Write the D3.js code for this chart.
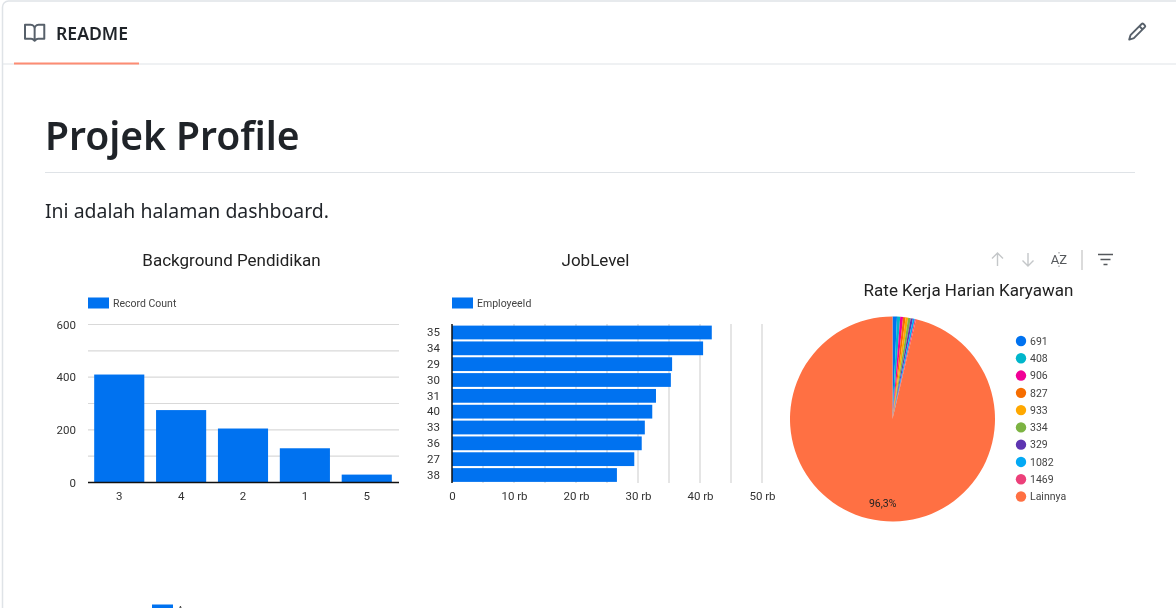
<!DOCTYPE html>
<html>
<head>
<meta charset="utf-8">
<title>Projek Profile</title>
<script src="https://cdn.jsdelivr.net/npm/d3@7/dist/d3.min.js"></script>
<style>
  html, body { margin: 0; padding: 0; background: #fff; overflow: hidden; }
  svg { display: block; }
  .page text { font-family: "Noto Sans", "Open Sans", sans-serif; }
  .chart text { font-family: Roboto, sans-serif; }
  .page { filter: blur(0.35px); }
  .chart { filter: blur(0.55px); }
</style>
</head>
<body>
<div id="root"></div>
<script>
// values
var eduCategories = ["3", "4", "2", "1", "5"];
var eduValues = [410, 275, 205, 130, 30];
var eduTicks = [0, 100, 200, 300, 400, 500, 600];

var jobCategories = ["35", "34", "29", "30", "31", "40", "33", "36", "27", "38"];
var jobValues = [41900, 40500, 35500, 35300, 32900, 32300, 31100, 30600, 29400, 26600];
var jobTicks = [0, 5000, 10000, 15000, 20000, 25000, 30000, 35000, 40000, 45000, 50000];

var rateLabels = ["691", "408", "906", "827", "933", "334", "329", "1082", "1469", "Lainnya"];
var rateValues = [0.7, 0.5, 0.45, 0.4, 0.4, 0.4, 0.35, 0.3, 0.2, 96.3];
var rateColors = ["#0072f0", "#00b6cb", "#f10096", "#f66d00", "#ffa800", "#7cb342", "#5e35b1", "#03a9f4", "#ec407a", "#ff7043"];

var BLUE = "#0072f0";
var book = "M0 1.75A.75.75 0 0 1 .75 1h4.253c1.227 0 2.317.59 3 1.501A3.743 3.743 0 0 1 11.006 1h4.245a.75.75 0 0 1 .75.75v10.5a.75.75 0 0 1-.75.75h-4.507a2.25 2.25 0 0 0-1.591.659l-.622.621a.75.75 0 0 1-1.06 0l-.622-.621A2.25 2.25 0 0 0 5.258 13H.75a.75.75 0 0 1-.75-.75Zm7.251 10.324.004-5.073-.002-2.253A2.25 2.25 0 0 0 5.003 2.5H1.5v9h3.757a3.75 3.75 0 0 1 1.994.574ZM8.755 4.75l-.004 7.322a3.752 3.752 0 0 1 1.992-.572H14.5v-9h-3.495a2.25 2.25 0 0 0-2.25 2.25Z";
var pencil = "M11.013 1.427a1.75 1.75 0 0 1 2.474 0l1.086 1.086a1.75 1.75 0 0 1 0 2.474l-8.61 8.61c-.21.21-.47.364-.756.445l-3.251.93a.75.75 0 0 1-.927-.928l.929-3.25c.081-.286.235-.547.445-.758l8.61-8.61Zm.176 4.823L9.75 4.81l-6.286 6.287a.253.253 0 0 0-.064.108l-.558 1.953 1.953-.558a.253.253 0 0 0 .108-.064Zm1.238-3.763a.25.25 0 0 0-.354 0L10.811 3.75l1.439 1.44 1.263-1.263a.25.25 0 0 0 0-.354Z";

var svg = d3.select("#root").append("svg")
    .attr("width", 1176)
    .attr("height", 608);

// readme frame
var page = svg.append("g").attr("class", "page");

page.append("rect")
    .attr("x", 2.5).attr("y", 1)
    .attr("width", 1300).attr("height", 700)
    .attr("rx", 6)
    .attr("fill", "#fff")
    .attr("stroke", "#dfe3e7")
    .attr("stroke-width", 1.5);

page.append("line")
    .attr("x1", 3).attr("x2", 1176)
    .attr("y1", 64).attr("y2", 64)
    .attr("stroke", "#dfe3e7")
    .attr("stroke-width", 1.2);

page.append("rect")
    .attr("x", 14).attr("y", 62.5)
    .attr("width", 125).attr("height", 2)
    .attr("fill", "#fd8c73");

page.append("path")
    .attr("d", book)
    .attr("transform", "translate(24,22.5) scale(1.33)")
    .attr("fill", "#57606a");

page.append("text")
    .attr("x", 56).attr("y", 40)
    .attr("font-size", 17.6)
    .attr("font-weight", 600)
    .attr("fill", "#1f2328")
    .text("README");

page.append("path")
    .attr("d", pencil)
    .attr("transform", "translate(1127,21.5) scale(1.27)")
    .attr("fill", "#57606a");

page.append("text")
    .attr("x", 45).attr("y", 150)
    .attr("font-size", 39)
    .attr("font-weight", 600)
    .attr("fill", "#1f2328")
    .text("Projek Profile");

page.append("line")
    .attr("x1", 45).attr("x2", 1135)
    .attr("y1", 172.5).attr("y2", 172.5)
    .attr("stroke", "#dfe3e7");

page.append("text")
    .attr("x", 45).attr("y", 218)
    .attr("font-size", 19.45)
    .attr("fill", "#1f2328")
    .text("Ini adalah halaman dashboard.");

// sort / filter controls
var tools = svg.append("g").attr("class", "chart")
    .attr("fill", "none")
    .attr("stroke-width", 1.4);

tools.append("path").attr("stroke", "#c4c7c9").attr("d", "M997.5 266V253M992 258.5L997.5 253L1003 258.5");
tools.append("path").attr("stroke", "#c4c7c9").attr("d", "M1028 253V266M1022.5 260.5L1028 266L1033.5 260.5");
tools.append("text")
    .attr("x", 1059).attr("y", 264)
    .attr("text-anchor", "middle")
    .attr("font-size", 13)
    .attr("fill", "#55585c")
    .attr("stroke", "none")
    .text("AZ");
tools.append("path").attr("stroke", "#8a8d90").attr("stroke-width", 1).attr("d", "M1059 252v1.5M1059 265.5v1.5");
tools.append("line")
    .attr("x1", 1082).attr("x2", 1082)
    .attr("y1", 250).attr("y2", 270)
    .attr("stroke", "#ccc");
tools.append("path").attr("stroke", "#55585c").attr("d", "M1098 254.5H1113M1100.5 259.5H1110.5M1103.5 264.5H1107.5");

function title(g, x, y, txt) {
    g.append("text")
        .attr("x", x).attr("y", y)
        .attr("text-anchor", "middle")
        .attr("font-size", 17)
        .attr("fill", "#222")
        .text(txt);
}

function barLegend(g, x, y, txt) {
    g.append("rect")
        .attr("x", x).attr("y", y)
        .attr("width", 21).attr("height", 11)
        .attr("fill", BLUE);
    g.append("text")
        .attr("x", x + 25).attr("y", y + 9.5)
        .attr("font-size", 10.5)
        .attr("fill", "#444")
        .text(txt);
}

function styleAxis(a) {
    a.select(".domain").remove();
    a.selectAll(".tick line").remove();
    a.selectAll("text")
        .attr("font-family", "Roboto, sans-serif")
        .attr("font-size", 11.5)
        .attr("fill", "#333");
}

// chart 1: Background Pendidikan
var c1 = svg.append("g").attr("class", "chart");
title(c1, 231.5, 265.5, "Background Pendidikan");
barLegend(c1, 88, 297.5, "Record Count");

var x1 = d3.scaleBand()
    .domain(eduCategories)
    .range([88, 398])
    .paddingInner(0.19)
    .paddingOuter(0.1);

var y1 = d3.scaleLinear()
    .domain([0, 600])
    .range([482.5, 324.5]);

c1.append("g").selectAll("line")
    .data(eduTicks.filter(function(d) { return d > 0; }))
    .enter()
    .append("line")
    .attr("x1", 88).attr("x2", 399)
    .attr("y1", function(d) { return y1(d); })
    .attr("y2", function(d) { return y1(d); })
    .attr("stroke", "#d9d9d9")
    .attr("stroke-width", 1.2);

c1.append("g").selectAll("rect")
    .data(eduValues)
    .enter()
    .append("rect")
    .attr("x", function(d, i) { return x1(eduCategories[i]); })
    .attr("y", function(d) { return y1(d); })
    .attr("width", x1.bandwidth())
    .attr("height", function(d) { return y1(0) - y1(d); })
    .attr("fill", BLUE);

c1.append("line")
    .attr("x1", 88).attr("x2", 399)
    .attr("y1", y1(0)).attr("y2", y1(0))
    .attr("stroke", "#111")
    .attr("stroke-width", 1.5);

c1.append("g")
    .attr("transform", "translate(0,482.5)")
    .call(d3.axisBottom(x1).tickSize(0).tickPadding(9))
    .call(styleAxis);

c1.append("g")
    .attr("transform", "translate(88,0)")
    .call(d3.axisLeft(y1).tickValues([0, 200, 400, 600]).tickSize(0).tickPadding(12))
    .call(styleAxis);

// chart 2: JobLevel
var c2 = svg.append("g").attr("class", "chart");
title(c2, 595.5, 265.5, "JobLevel");
barLegend(c2, 452, 297.5, "EmployeeId");

var x2 = d3.scaleLinear()
    .domain([0, 50000])
    .range([452, 762]);

var y2 = d3.scaleBand()
    .domain(jobCategories)
    .range([324.5, 483])
    .paddingInner(0.13)
    .paddingOuter(0.07);

c2.append("g").selectAll("line")
    .data(jobTicks.filter(function(d) { return d > 0; }))
    .enter()
    .append("line")
    .attr("x1", function(d) { return x2(d); })
    .attr("x2", function(d) { return x2(d); })
    .attr("y1", 324).attr("y2", 483)
    .attr("stroke", "#d4d4d4")
    .attr("stroke-width", 1.2);

c2.append("g").selectAll("rect")
    .data(jobValues)
    .enter()
    .append("rect")
    .attr("x", x2(0))
    .attr("y", function(d, i) { return y2(jobCategories[i]); })
    .attr("width", function(d) { return x2(d) - x2(0); })
    .attr("height", y2.bandwidth())
    .attr("fill", BLUE);

c2.append("line")
    .attr("x1", x2(0)).attr("x2", x2(0))
    .attr("y1", 324).attr("y2", 483)
    .attr("stroke", "#111")
    .attr("stroke-width", 1.5);

c2.append("g")
    .attr("transform", "translate(0,483)")
    .call(d3.axisBottom(x2)
        .tickValues([0, 10000, 20000, 30000, 40000, 50000])
        .tickFormat(function(d) { return d === 0 ? "0" : d / 1000 + " rb"; })
        .tickSize(0)
        .tickPadding(9))
    .call(styleAxis);

c2.append("g")
    .attr("transform", "translate(452,0)")
    .call(d3.axisLeft(y2).tickSize(0).tickPadding(12))
    .call(styleAxis);

// chart 3: Rate Kerja Harian Karyawan
var c3 = svg.append("g").attr("class", "chart");
title(c3, 968.5, 296, "Rate Kerja Harian Karyawan");

var pie = d3.pie().sort(null);
var arc = d3.arc().innerRadius(0).outerRadius(102.5);
var labelArc = d3.arc().innerRadius(0).outerRadius(170);

var slices = c3.append("g")
    .attr("transform", "translate(892.5,419)");

slices.selectAll("path")
    .data(pie(rateValues))
    .enter()
    .append("path")
    .attr("d", arc)
    .attr("fill", function(d, i) { return rateColors[i]; });

slices.append("text")
    .attr("transform", "translate(" + labelArc.centroid(pie(rateValues)[9]) + ")")
    .attr("text-anchor", "middle")
    .attr("dy", "0.35em")
    .attr("font-size", 10.5)
    .attr("fill", "#222")
    .text("96,3%");

var yLegend = d3.scalePoint()
    .domain(rateLabels)
    .range([341, 496.5]);

var items = c3.append("g").selectAll("g")
    .data(rateLabels)
    .enter()
    .append("g")
    .attr("transform", function(d) { return "translate(1021," + yLegend(d) + ")"; });

items.append("circle")
    .attr("r", 5.2)
    .attr("fill", function(d, i) { return rateColors[i]; });

items.append("text")
    .attr("x", 9)
    .attr("dy", "0.35em")
    .attr("font-size", 10.5)
    .attr("fill", "#444")
    .text(function(d) { return d; });

// legend of the next chart, cut off by the window
var c4 = svg.append("g").attr("class", "chart");
barLegend(c4, 152, 604.5, "Age");
</script>
</body>
</html>
